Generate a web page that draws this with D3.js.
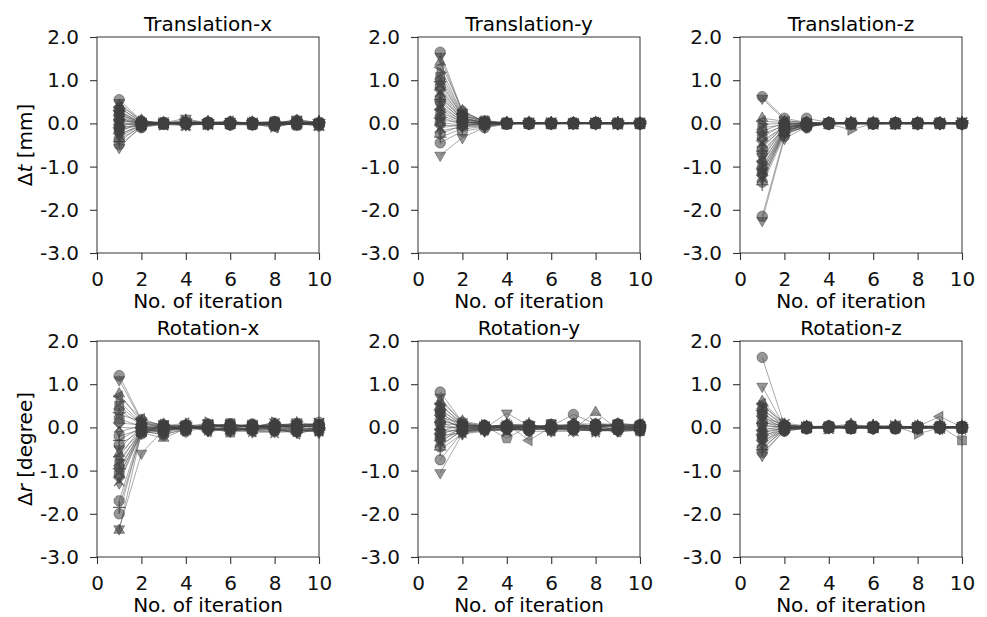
<!DOCTYPE html>
<html>
<head>
<meta charset="utf-8">
<script src="https://cdn.jsdelivr.net/npm/d3@7"></script>
<style>
  body { margin: 0; background: #fff; }
  text { font-family: "DejaVu Sans", sans-serif; }
</style>
</head>
<body>
<svg id="chart" width="987" height="617"></svg>
<script>
// iterations on the x axis
const iterations = [1, 2, 3, 4, 5, 6, 7, 8, 9, 10];
const xTicks = [0, 2, 4, 6, 8, 10];
const yTicks = [2, 1, 0, -1, -2, -3];
const titles = ["Translation-x", "Translation-y", "Translation-z", "Rotation-x", "Rotation-y", "Rotation-z"];
const markers = ["o", "v", "^", "<", ">", "s", "p", "*", "h", "D", "x", "d", "8", "+"];

// one row per trial, one value per iteration
const transX = [
  [0.55,0.06,-0.01,0.03,0.00,0.02,-0.02,0.04,0.05,-0.02],
  [0.48,0.04,0.01,0.12,-0.02,0.04,0.01,-0.03,0.10,0.01],
  [0.42,0.08,-0.02,0.02,0.03,-0.01,0.02,0.01,-0.02,0.03],
  [0.38,0.02,0.00,-0.03,0.01,0.05,-0.01,-0.10,0.03,-0.04],
  [0.35,0.05,0.02,0.04,-0.03,0.00,0.03,0.02,0.01,0.00],
  [0.31,-0.03,-0.01,0.01,0.02,-0.03,0.00,0.05,-0.04,0.02],
  [0.28,0.03,0.03,-0.02,0.00,0.02,-0.04,0.00,0.06,-0.01],
  [0.25,0.01,-0.03,0.06,0.04,0.01,0.02,-0.05,0.02,0.04],
  [0.22,-0.02,0.01,0.00,-0.01,-0.02,0.03,0.03,-0.01,-0.03],
  [0.19,0.04,0.00,0.03,0.02,0.04,-0.02,0.01,0.08,0.01],
  [0.16,0.00,0.02,-0.04,-0.02,0.00,0.01,-0.02,0.00,-0.05],
  [0.13,-0.04,-0.02,0.02,0.01,0.03,-0.01,0.04,-0.03,0.02],
  [0.11,0.02,0.01,-0.01,0.03,-0.01,0.00,-0.01,0.04,0.00],
  [0.08,-0.01,0.00,0.08,-0.01,0.02,0.02,0.02,-0.02,0.03],
  [0.05,0.03,-0.01,0.00,0.00,-0.04,-0.03,-0.06,0.01,-0.02],
  [0.03,-0.05,0.02,-0.02,0.02,0.01,0.01,0.00,0.05,0.01],
  [0.00,0.01,-0.02,0.01,-0.03,0.03,0.00,0.03,-0.01,-0.01],
  [-0.03,-0.02,0.01,-0.03,0.01,0.00,-0.02,-0.02,0.03,0.02],
  [-0.06,0.02,0.00,0.04,0.00,-0.02,0.01,0.01,0.00,-0.03],
  [-0.09,-0.06,-0.01,-0.01,0.02,0.02,-0.01,-0.04,0.02,0.00],
  [-0.12,0.00,0.02,0.02,-0.02,-0.01,0.02,0.02,-0.05,0.01],
  [-0.15,-0.03,-0.03,-0.05,0.01,0.01,-0.02,-0.08,0.01,-0.02],
  [-0.19,0.01,0.01,0.01,-0.01,-0.03,0.01,0.00,0.03,0.00],
  [-0.23,-0.07,0.00,-0.02,0.03,0.02,0.00,-0.03,-0.02,0.02],
  [-0.27,-0.02,-0.02,0.03,-0.02,0.00,-0.01,0.01,0.04,-0.04],
  [-0.31,-0.04,0.01,-0.01,0.00,-0.02,0.03,-0.02,0.00,0.01],
  [-0.36,-0.08,-0.01,0.02,0.02,0.01,-0.02,0.03,-0.03,-0.01],
  [-0.42,-0.05,0.00,-0.04,-0.01,-0.01,0.00,-0.05,0.02,0.03],
  [-0.49,-0.10,-0.02,0.01,0.01,0.03,0.01,0.00,-0.01,-0.06],
  [-0.56,-0.06,0.01,-0.02,-0.03,-0.02,-0.03,-0.02,0.01,0.00]
];

const transY = [
  [1.65,0.28,0.04,0.01,0.00,0.01,-0.01,0.02,0.00,0.01],
  [1.55,0.25,0.06,0.02,0.01,0.00,0.01,0.00,-0.01,0.00],
  [1.42,0.30,0.03,-0.01,0.00,0.02,0.00,0.01,0.01,-0.01],
  [1.30,0.22,0.05,0.00,-0.01,0.00,0.01,0.03,0.00,0.00],
  [1.18,0.20,0.02,0.02,0.01,-0.01,0.00,0.00,0.01,0.01],
  [1.08,0.18,0.07,0.01,0.00,0.01,-0.02,0.01,-0.01,0.00],
  [1.00,0.15,0.01,-0.02,0.02,0.00,0.01,-0.01,0.00,-0.01],
  [0.92,0.17,0.04,0.00,0.00,0.01,0.00,0.02,0.01,0.00],
  [0.85,0.12,0.02,0.01,-0.01,-0.01,0.02,0.00,0.00,0.01],
  [0.78,0.14,-0.01,0.00,0.01,0.00,0.00,-0.01,-0.02,0.00],
  [0.72,0.10,0.03,-0.01,0.00,0.02,-0.01,0.01,0.01,-0.01],
  [0.66,0.08,0.00,0.02,-0.02,0.00,0.01,0.00,0.00,0.01],
  [0.60,0.11,0.02,0.00,0.01,-0.01,0.00,0.02,-0.01,0.00],
  [0.55,0.06,-0.02,0.01,0.00,0.01,-0.01,-0.01,0.01,0.00],
  [0.49,0.09,0.01,-0.01,0.01,0.00,0.00,0.01,0.00,-0.02],
  [0.44,0.04,0.00,0.00,-0.01,0.02,0.01,0.00,0.02,0.01],
  [0.38,0.05,-0.03,0.02,0.00,-0.01,0.00,-0.02,0.00,0.00],
  [0.32,0.02,0.01,0.00,0.01,0.00,-0.01,0.01,-0.01,0.01],
  [0.26,0.03,-0.01,-0.02,0.00,0.01,0.01,0.00,0.01,-0.01],
  [0.20,0.00,0.02,0.01,-0.01,0.00,0.00,0.01,0.00,0.00],
  [0.14,-0.02,-0.04,0.00,0.00,-0.02,0.01,-0.01,-0.01,0.01],
  [0.08,0.01,0.00,0.01,0.02,0.00,-0.01,0.00,0.01,0.00],
  [0.02,-0.04,-0.02,-0.01,0.00,0.01,0.00,0.02,0.00,-0.01],
  [-0.04,-0.06,-0.05,0.00,-0.01,0.00,0.01,-0.01,0.00,0.00],
  [-0.10,-0.03,-0.01,0.01,0.01,-0.01,0.00,0.00,-0.02,0.01],
  [-0.17,-0.08,-0.06,-0.01,0.00,0.01,-0.01,0.01,0.01,0.00],
  [-0.24,-0.05,-0.02,0.00,-0.02,0.00,0.00,-0.01,0.00,-0.01],
  [-0.32,-0.12,-0.08,0.01,0.00,-0.01,0.01,0.00,0.01,0.00],
  [-0.45,-0.18,-0.10,-0.02,0.01,0.00,0.00,0.01,-0.01,0.01],
  [-0.74,-0.33,-0.09,0.00,0.00,0.01,-0.01,0.00,0.00,0.00]
];

const transZ = [
  [0.62,0.12,0.02,0.00,0.01,0.00,0.01,0.00,-0.01,0.00],
  [0.58,0.08,0.00,0.01,-0.01,0.01,0.00,0.01,0.00,-0.01],
  [0.12,0.05,0.03,0.00,0.00,-0.01,0.01,0.00,0.01,0.00],
  [0.05,0.02,-0.01,0.01,0.02,0.00,-0.01,0.01,0.00,0.01],
  [-0.02,0.00,0.01,-0.01,0.00,0.01,0.00,-0.01,0.02,0.00],
  [-0.10,-0.03,-0.02,0.00,0.01,0.00,0.02,0.00,-0.01,-0.02],
  [-0.18,0.01,0.00,0.02,-0.01,-0.01,0.00,0.02,0.00,0.01],
  [-0.25,-0.05,-0.04,0.00,0.00,0.02,-0.01,0.00,0.01,0.00],
  [-0.32,-0.02,0.01,-0.02,0.01,0.00,0.01,-0.01,0.00,-0.01],
  [-0.40,-0.08,-0.03,0.01,0.00,-0.01,0.00,0.01,-0.02,0.00],
  [-0.46,-0.06,0.00,0.00,-0.02,0.01,-0.01,0.00,0.01,0.02],
  [-0.52,-0.10,-0.05,-0.01,0.01,0.00,0.01,0.01,0.00,-0.01],
  [-0.58,-0.04,0.02,0.01,0.00,-0.02,0.00,-0.02,0.01,0.00],
  [-0.64,-0.12,-0.02,0.00,0.03,0.00,0.00,0.00,-0.01,0.01],
  [-0.70,-0.09,-0.06,-0.02,0.00,0.01,0.02,0.01,0.00,0.00],
  [-0.76,-0.14,0.01,0.01,-0.01,0.00,-0.01,0.00,0.02,-0.02],
  [-0.82,-0.07,-0.03,0.00,0.02,-0.01,0.00,-0.01,0.00,0.01],
  [-0.88,-0.16,-0.08,0.01,0.00,0.01,0.01,0.02,-0.01,0.00],
  [-0.94,-0.11,-0.01,-0.01,-0.15,0.00,-0.02,0.00,0.01,0.01],
  [-1.00,-0.18,-0.04,0.00,0.01,0.02,0.00,0.01,0.00,-0.01],
  [-1.05,-0.13,-0.07,0.02,0.00,-0.01,0.01,-0.01,0.02,0.00],
  [-1.10,-0.20,-0.02,0.00,-0.02,0.00,0.00,0.00,-0.01,0.02],
  [-1.15,-0.15,-0.05,-0.01,0.01,0.01,-0.01,0.02,0.00,-0.01],
  [-1.20,-0.22,-0.09,0.01,0.00,0.00,0.02,0.00,0.01,0.00],
  [-1.26,-0.17,-0.03,0.00,0.02,-0.02,0.00,-0.01,0.00,0.01],
  [-1.30,-0.25,-0.06,-0.02,0.00,0.01,-0.01,0.01,-0.02,0.00],
  [-1.36,-0.19,-0.10,0.01,-0.01,0.00,0.01,0.00,0.01,-0.02],
  [-1.42,-0.28,-0.04,0.00,0.01,-0.01,0.00,-0.02,0.00,0.01],
  [-2.15,-0.30,0.12,0.02,-0.02,0.01,0.00,0.01,0.00,0.00],
  [-2.25,-0.35,-0.08,0.00,0.01,0.00,-0.01,0.00,0.01,-0.01]
];

const rotX = [
  [1.20,0.18,0.02,0.05,-0.03,0.08,0.02,0.10,-0.05,0.12],
  [1.10,0.15,-0.05,0.02,0.10,-0.02,0.06,-0.04,0.13,0.03],
  [0.78,0.12,0.08,-0.03,0.02,0.05,-0.08,0.06,0.02,-0.06],
  [0.72,0.20,0.03,0.10,-0.05,0.00,0.04,-0.02,0.08,0.05],
  [0.60,0.10,-0.02,-0.06,0.12,-0.07,0.00,0.12,-0.03,-0.02],
  [0.50,0.08,0.05,0.04,0.00,0.10,-0.03,0.02,0.05,0.08],
  [0.40,0.05,-0.08,0.00,0.06,0.02,0.07,-0.08,-0.10,0.00],
  [0.30,0.14,0.01,0.07,-0.02,-0.05,-0.02,0.05,0.10,-0.08],
  [0.20,0.02,0.06,-0.04,0.04,0.06,0.03,-0.05,0.00,0.04],
  [0.10,0.06,-0.03,0.03,-0.08,-0.03,-0.06,0.08,-0.08,-0.04],
  [0.00,-0.02,0.04,-0.02,0.05,0.04,0.05,-0.01,0.06,0.10],
  [-0.10,0.04,-0.06,0.06,0.01,-0.10,-0.01,0.03,-0.04,-0.10],
  [-0.20,-0.05,0.02,-0.07,0.08,0.03,0.08,-0.06,0.03,0.02],
  [-0.30,0.01,-0.10,0.01,-0.04,-0.06,-0.04,0.00,-0.12,-0.06],
  [-0.40,-0.08,0.05,-0.05,0.03,0.07,0.01,0.04,0.07,0.06],
  [-0.50,0.03,-0.04,0.08,-0.07,-0.01,-0.07,-0.10,-0.02,-0.12],
  [-0.60,-0.10,0.00,-0.01,0.02,-0.08,0.03,0.07,0.04,0.01],
  [-0.68,0.00,-0.12,0.03,-0.10,0.01,-0.10,-0.03,-0.15,-0.03],
  [-0.76,-0.12,0.07,-0.08,0.06,-0.04,0.06,0.01,0.01,0.07],
  [-0.84,-0.04,-0.07,0.02,-0.01,-0.12,-0.05,-0.07,-0.06,-0.09],
  [-0.92,-0.14,0.03,-0.03,0.04,0.05,0.02,0.03,0.09,0.00],
  [-1.00,-0.06,-0.09,0.04,-0.06,-0.02,-0.09,-0.12,-0.09,-0.05],
  [-1.08,-0.15,0.01,-0.10,0.01,0.02,0.04,0.02,0.02,0.03],
  [-1.16,-0.03,-0.14,0.00,-0.03,-0.09,-0.02,-0.05,-0.11,-0.07],
  [-1.24,-0.09,0.04,-0.04,0.07,0.06,0.00,0.09,0.03,0.09],
  [-1.30,-0.11,-0.05,0.05,-0.09,-0.05,-0.12,-0.09,-0.07,-0.02],
  [-1.70,-0.07,-0.18,-0.02,0.00,0.03,0.05,0.00,0.05,0.04],
  [-1.85,-0.13,-0.08,0.03,-0.05,-0.03,-0.03,-0.04,-0.04,-0.01],
  [-2.00,-0.10,-0.15,-0.06,0.03,0.00,0.01,0.05,0.00,0.05],
  [-2.35,-0.60,-0.06,0.01,-0.02,-0.06,-0.06,-0.02,-0.08,-0.04],
  [-2.38,-0.12,-0.25,-0.03,0.05,0.04,0.02,0.06,0.04,0.00]
];

const rotY = [
  [0.82,0.12,0.02,0.05,-0.02,0.03,0.30,0.08,0.02,0.00],
  [0.70,0.08,-0.03,0.33,0.04,-0.02,0.05,-0.05,0.10,0.04],
  [0.60,0.15,0.05,-0.02,0.00,0.06,-0.03,0.35,-0.04,-0.03],
  [0.55,0.05,0.00,0.08,-0.30,0.01,0.10,0.02,0.06,0.08],
  [0.50,0.10,0.06,-0.05,0.06,-0.05,-0.02,-0.08,0.00,-0.02],
  [0.45,0.02,-0.05,0.03,-0.04,0.08,0.03,0.05,-0.06,0.05],
  [0.40,0.07,0.03,-0.25,0.03,0.00,-0.06,0.00,0.08,-0.06],
  [0.36,-0.03,-0.02,0.06,0.08,-0.07,0.07,-0.10,-0.02,0.01],
  [0.32,0.04,0.04,0.00,-0.06,0.04,-0.01,0.06,0.04,-0.08],
  [0.28,-0.06,-0.04,0.04,0.01,-0.03,0.04,-0.03,-0.08,0.06],
  [0.24,0.09,0.01,-0.07,-0.02,0.05,-0.08,0.10,0.05,0.02],
  [0.20,-0.01,-0.06,0.02,0.05,-0.06,0.02,-0.06,-0.03,-0.05],
  [0.16,0.03,0.03,-0.03,-0.08,0.02,-0.04,0.03,0.07,0.03],
  [0.12,-0.08,-0.01,0.07,0.02,-0.04,0.06,-0.02,-0.05,-0.01],
  [0.08,0.06,0.05,-0.04,-0.05,0.07,0.00,0.07,0.01,0.07],
  [0.04,-0.04,-0.03,0.01,0.07,-0.01,-0.05,-0.09,-0.07,-0.04],
  [0.00,0.01,0.02,0.05,-0.01,0.03,0.03,0.04,0.03,0.00],
  [-0.04,-0.10,-0.07,-0.06,0.04,-0.08,-0.07,-0.04,-0.10,-0.07],
  [-0.08,0.05,0.04,0.03,-0.07,0.06,0.01,0.01,0.06,0.04],
  [-0.12,-0.05,-0.02,-0.01,0.00,-0.02,-0.03,-0.07,-0.01,-0.09],
  [-0.16,0.00,0.00,0.06,0.06,0.01,0.08,0.08,0.02,0.02],
  [-0.20,-0.12,-0.05,-0.08,-0.03,-0.05,-0.02,-0.01,-0.04,-0.03],
  [-0.25,-0.02,0.02,0.00,0.03,0.00,0.04,0.05,0.09,0.05],
  [-0.30,-0.07,-0.08,-0.02,-0.09,-0.09,-0.09,-0.05,-0.09,-0.06],
  [-0.35,0.02,0.01,0.04,0.02,0.04,0.02,0.02,0.00,0.01],
  [-0.40,-0.09,-0.04,-0.05,-0.04,-0.03,-0.04,-0.08,-0.05,-0.08],
  [-0.45,-0.04,0.03,0.02,0.05,0.02,0.06,0.03,0.04,0.03],
  [-0.52,-0.14,-0.06,-0.03,-0.02,-0.06,-0.01,-0.03,-0.06,-0.02],
  [-0.75,-0.11,-0.01,0.01,0.01,-0.01,0.00,0.00,0.02,0.00],
  [-1.05,-0.15,-0.09,-0.04,-0.05,-0.04,-0.05,-0.06,-0.08,-0.05]
];

const rotZ = [
  [1.62,0.05,0.00,0.01,0.02,0.00,-0.01,0.01,0.00,0.01],
  [0.95,0.02,0.01,-0.01,0.00,0.01,0.00,0.00,0.02,0.00],
  [0.60,0.08,-0.02,0.02,0.08,0.00,0.05,-0.02,0.01,-0.02],
  [0.55,0.04,0.01,0.00,-0.02,0.03,-0.01,0.02,0.25,0.01],
  [0.50,0.10,0.03,-0.02,0.01,-0.02,0.02,-0.15,-0.01,0.02],
  [0.45,0.00,-0.01,0.01,0.04,0.02,-0.03,0.01,0.03,-0.30],
  [0.40,0.06,0.02,0.03,-0.03,-0.01,0.03,0.00,-0.02,0.00],
  [0.35,-0.02,0.00,-0.01,0.00,0.04,0.00,0.03,0.02,0.02],
  [0.30,0.03,-0.03,0.02,0.05,-0.03,0.01,-0.03,0.00,-0.01],
  [0.26,-0.04,0.02,0.00,-0.01,0.01,-0.02,0.02,-0.03,0.03],
  [0.22,0.07,0.01,-0.03,0.02,0.00,0.04,0.00,0.01,0.00],
  [0.18,0.01,-0.02,0.01,-0.04,0.02,0.00,-0.04,0.04,-0.02],
  [0.14,-0.03,0.00,0.04,0.01,-0.02,-0.01,0.01,-0.01,0.01],
  [0.10,0.05,0.03,-0.01,0.03,0.05,0.02,0.02,0.00,-0.03],
  [0.06,-0.01,-0.01,0.00,-0.02,-0.01,-0.04,-0.01,0.02,0.02],
  [0.02,0.02,0.01,0.02,0.00,0.01,0.01,0.03,-0.02,0.00],
  [-0.02,-0.05,-0.02,-0.02,0.02,-0.04,0.00,-0.02,0.01,-0.01],
  [-0.06,0.03,0.02,0.01,-0.01,0.02,0.03,0.00,-0.04,0.03],
  [-0.10,-0.02,0.00,-0.03,0.04,0.00,-0.02,0.04,0.03,-0.02],
  [-0.14,0.00,-0.03,0.03,-0.03,0.03,0.01,-0.01,0.00,0.00],
  [-0.18,-0.06,0.01,-0.01,0.01,-0.02,-0.03,0.02,-0.01,0.01],
  [-0.22,0.01,-0.01,0.02,-0.02,0.01,0.02,-0.03,0.02,-0.04],
  [-0.26,-0.03,0.02,-0.02,0.03,-0.03,0.00,0.01,-0.03,0.02],
  [-0.30,-0.08,-0.02,0.00,-0.01,0.02,-0.01,-0.02,0.01,-0.01],
  [-0.35,-0.01,0.00,0.01,0.00,-0.01,0.01,0.00,-0.02,0.00],
  [-0.40,-0.04,0.01,-0.02,0.02,0.00,-0.02,0.03,0.00,0.02],
  [-0.46,-0.07,-0.03,0.01,-0.03,0.01,0.00,-0.01,0.02,-0.02],
  [-0.52,-0.02,0.01,-0.01,0.01,-0.02,0.02,0.00,-0.01,0.01],
  [-0.58,-0.09,-0.01,0.00,0.00,0.00,-0.01,0.01,0.00,-0.03],
  [-0.65,-0.05,0.00,0.02,-0.01,0.01,0.01,-0.02,0.01,0.00]
];

const panelData = [transX, transY, transZ, rotX, rotY, rotZ];

// layout
const colLeft = [97, 418, 740];
const rowTop = [37, 341];
const pw = 222, ph = 216;

const svg = d3.select("#chart");

function poly(n, r, rot) {
  const pts = d3.range(n).map(k => {
    const a = rot + k * 2 * Math.PI / n;
    return [r * Math.sin(a), -r * Math.cos(a)];
  });
  return "M" + pts.map(p => p[0].toFixed(2) + "," + p[1].toFixed(2)).join("L") + "Z";
}

function markerPath(m, r) {
  switch (m) {
    case "o": return `M${r},0A${r},${r} 0 1,1 ${-r},0A${r},${r} 0 1,1 ${r},0Z`;
    case "^": return poly(3, r * 1.2, 0);
    case "v": return poly(3, r * 1.2, Math.PI);
    case "<": return poly(3, r * 1.2, -Math.PI / 2);
    case ">": return poly(3, r * 1.2, Math.PI / 2);
    case "s": return poly(4, r * 1.2, Math.PI / 4);
    case "D": return poly(4, r * 1.15, 0);
    case "d": return `M0,${-r * 1.1}L${r * 0.65},0L0,${r * 1.1}L${-r * 0.65},0Z`;
    case "p": return poly(5, r * 1.1, 0);
    case "h": return poly(6, r * 1.1, 0);
    case "8": return poly(8, r * 1.05, Math.PI / 8);
    case "*": {
      const pts = d3.range(10).map(k => {
        const a = k * Math.PI / 5, rr = k % 2 ? r * 0.55 : r * 1.3;
        return [rr * Math.sin(a), -rr * Math.cos(a)];
      });
      return "M" + pts.map(p => p[0].toFixed(2) + "," + p[1].toFixed(2)).join("L") + "Z";
    }
    case "x": return `M${-r},${-r}L${r},${r}M${-r},${r}L${r},${-r}`;
    case "+": return `M${-r * 1.2},0L${r * 1.2},0M0,${-r * 1.2}L0,${r * 1.2}`;
  }
}

panelData.forEach((series, k) => {
  const col = k % 3, row = Math.floor(k / 3);
  const left = colLeft[col], top = rowTop[row];

  const x = d3.scaleLinear().domain([0, 10]).range([left, left + pw]);
  const y = d3.scaleLinear().domain([-3, 2]).range([top + ph, top]);

  const g = svg.append("g");

  // axes
  const yAxis = d3.axisLeft(y).tickValues(yTicks).tickFormat(d => d.toFixed(1)).tickSize(7).tickPadding(11);
  const xAxis = d3.axisBottom(x).tickValues(xTicks).tickFormat(d => d).tickSize(7).tickPadding(12);

  const ya = g.append("g").attr("transform", `translate(${left},0)`).call(yAxis);
  const xa = g.append("g").attr("transform", `translate(0,${top + ph})`).call(xAxis);
  [ya, xa].forEach(a => {
    a.select(".domain").remove();
    a.selectAll("line").attr("stroke", "#333").attr("stroke-width", 1.1);
    a.selectAll("text").attr("font-size", 20).attr("font-family", "DejaVu Sans").attr("fill", "#111");
  });

  const line = d3.line().x((d, j) => x(iterations[j])).y(d => y(d));

  const plot = g.append("g");
  series.forEach((s, i) => {
    const m = markers[i % markers.length];
    plot.append("path")
      .attr("d", line(s))
      .attr("fill", "none")
      .attr("stroke", "#404040")
      .attr("stroke-opacity", 0.5)
      .attr("stroke-width", 0.9);
    const open = (m === "x" || m === "+");
    plot.selectAll(null)
      .data(s)
      .enter().append("path")
      .attr("transform", (d, j) => `translate(${x(iterations[j])},${y(d)})`)
      .attr("d", markerPath(m, 5.2))
      .attr("fill", open ? "none" : "#404040")
      .attr("fill-opacity", 0.55)
      .attr("stroke", "#404040")
      .attr("stroke-opacity", open ? 0.8 : 0.65)
      .attr("stroke-width", open ? 1.2 : 0.8);
  });

  // frame
  g.append("rect")
    .attr("x", left).attr("y", top)
    .attr("width", pw).attr("height", ph)
    .attr("fill", "none")
    .attr("stroke", "#333")
    .attr("stroke-width", 1);

  // title
  g.append("text")
    .attr("x", left + pw / 2).attr("y", top - 6.5)
    .attr("text-anchor", "middle")
    .attr("font-size", 20)
    .text(titles[k]);

  // x label
  g.append("text")
    .attr("x", left + pw / 2).attr("y", top + ph + 55)
    .attr("text-anchor", "middle")
    .attr("font-size", 20)
    .text("No. of iteration");

  // y label only in the first column
  if (col === 0) {
    const yl = g.append("text")
      .attr("transform", `translate(32,${top + ph / 2}) rotate(-90)`)
      .attr("text-anchor", "middle")
      .attr("font-size", 20);
    yl.append("tspan").text("Δ");
    yl.append("tspan").attr("font-style", "italic").text(row === 0 ? "t" : "r");
    yl.append("tspan").text(row === 0 ? " [mm]" : " [degree]");
  }
});
</script>
</body>
</html>
